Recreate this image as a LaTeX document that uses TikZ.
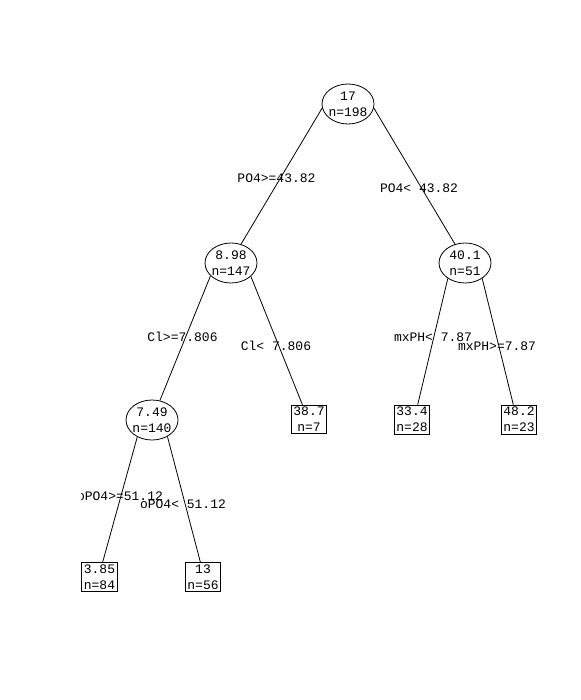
\documentclass[tikz,border=0pt]{standalone}
\usepackage{fontspec}
\newfontfamily\treefont{Liberation Mono}
\usetikzlibrary{shapes.geometric}
\begin{document}
\begin{tikzpicture}[x=1pt,y=-1pt,
  every node/.style={font=\treefont\fontsize{13}{16}\selectfont},
  inode/.style={ellipse,draw,line width=0.8pt,fill=white,minimum width=52pt,minimum height=40pt,inner sep=0pt},
  itext/.style={align=center,inner sep=0pt},
  leaf/.style={rectangle,draw,line width=0.8pt,fill=white,align=center,inner xsep=2pt,inner ysep=2pt},
  split/.style={inner sep=0pt},
  branch/.style={line width=0.8pt}]
\useasboundingbox[fill=white] (0,0) rectangle (580,700);
% internal nodes
\node[inode] (root) at (348,104) {};
\node[itext] (troot) at (root) {17\\n=198};
\node[inode] (n898) at (231,263) {};
\node[itext] (t898) at (n898) {8.98\\n=147};
\node[inode] (n401) at (465,263) {};
\node[itext] (t401) at (n401) {40.1\\n=51};
\node[inode] (n749) at (152,420) {};
\node[itext] (t749) at (n749) {7.49\\n=140};
% leaves
\node[leaf] (l387) at (309,419.5) {38.7\\n=7};
\node[leaf] (l334) at (412,419.5) {33.4\\n=28};
\node[leaf] (l482) at (519,419.5) {48.2\\n=23};
\node[leaf] (l385) at (99.5,577) {3.85\\n=84};
\node[leaf] (l13) at (203,577) {13\\n=56};
% branches
\draw[branch] (root.189) -- (n898.62);
\draw[branch] (root.351) -- (n401.118);
\draw[branch] (n898.212) -- (n749.68);
\draw[branch] (n898.326) -- (l387.114);
\draw[branch] (n401.222) -- (l334.69);
\draw[branch] (n401.318) -- (l482.111);
\draw[branch] (n749.229) -- (l385.78);
\draw[branch] (n749.313) -- (l13.100);
% split labels
\node[split] (s1) at (276.5,178) {PO4>=43.82};
\node[split] (s2) at (419,188) {PO4<~43.82};
\node[split] (s3) at (182.5,337) {Cl>=7.806};
\node[split] (s4) at (276,346) {Cl<~7.806};
\node[split] (s5) at (433,337) {mxPH<~7.87};
\node[split] (s6) at (497,346) {mxPH>=7.87};
\begin{scope}
\clip (81,480) rectangle (240,520);
\node[split] (s7) at (120,496) {oPO4>=51.12};
\end{scope}
\node[split] (s8) at (183,504) {oPO4<~51.12};
\end{tikzpicture}
\end{document}
